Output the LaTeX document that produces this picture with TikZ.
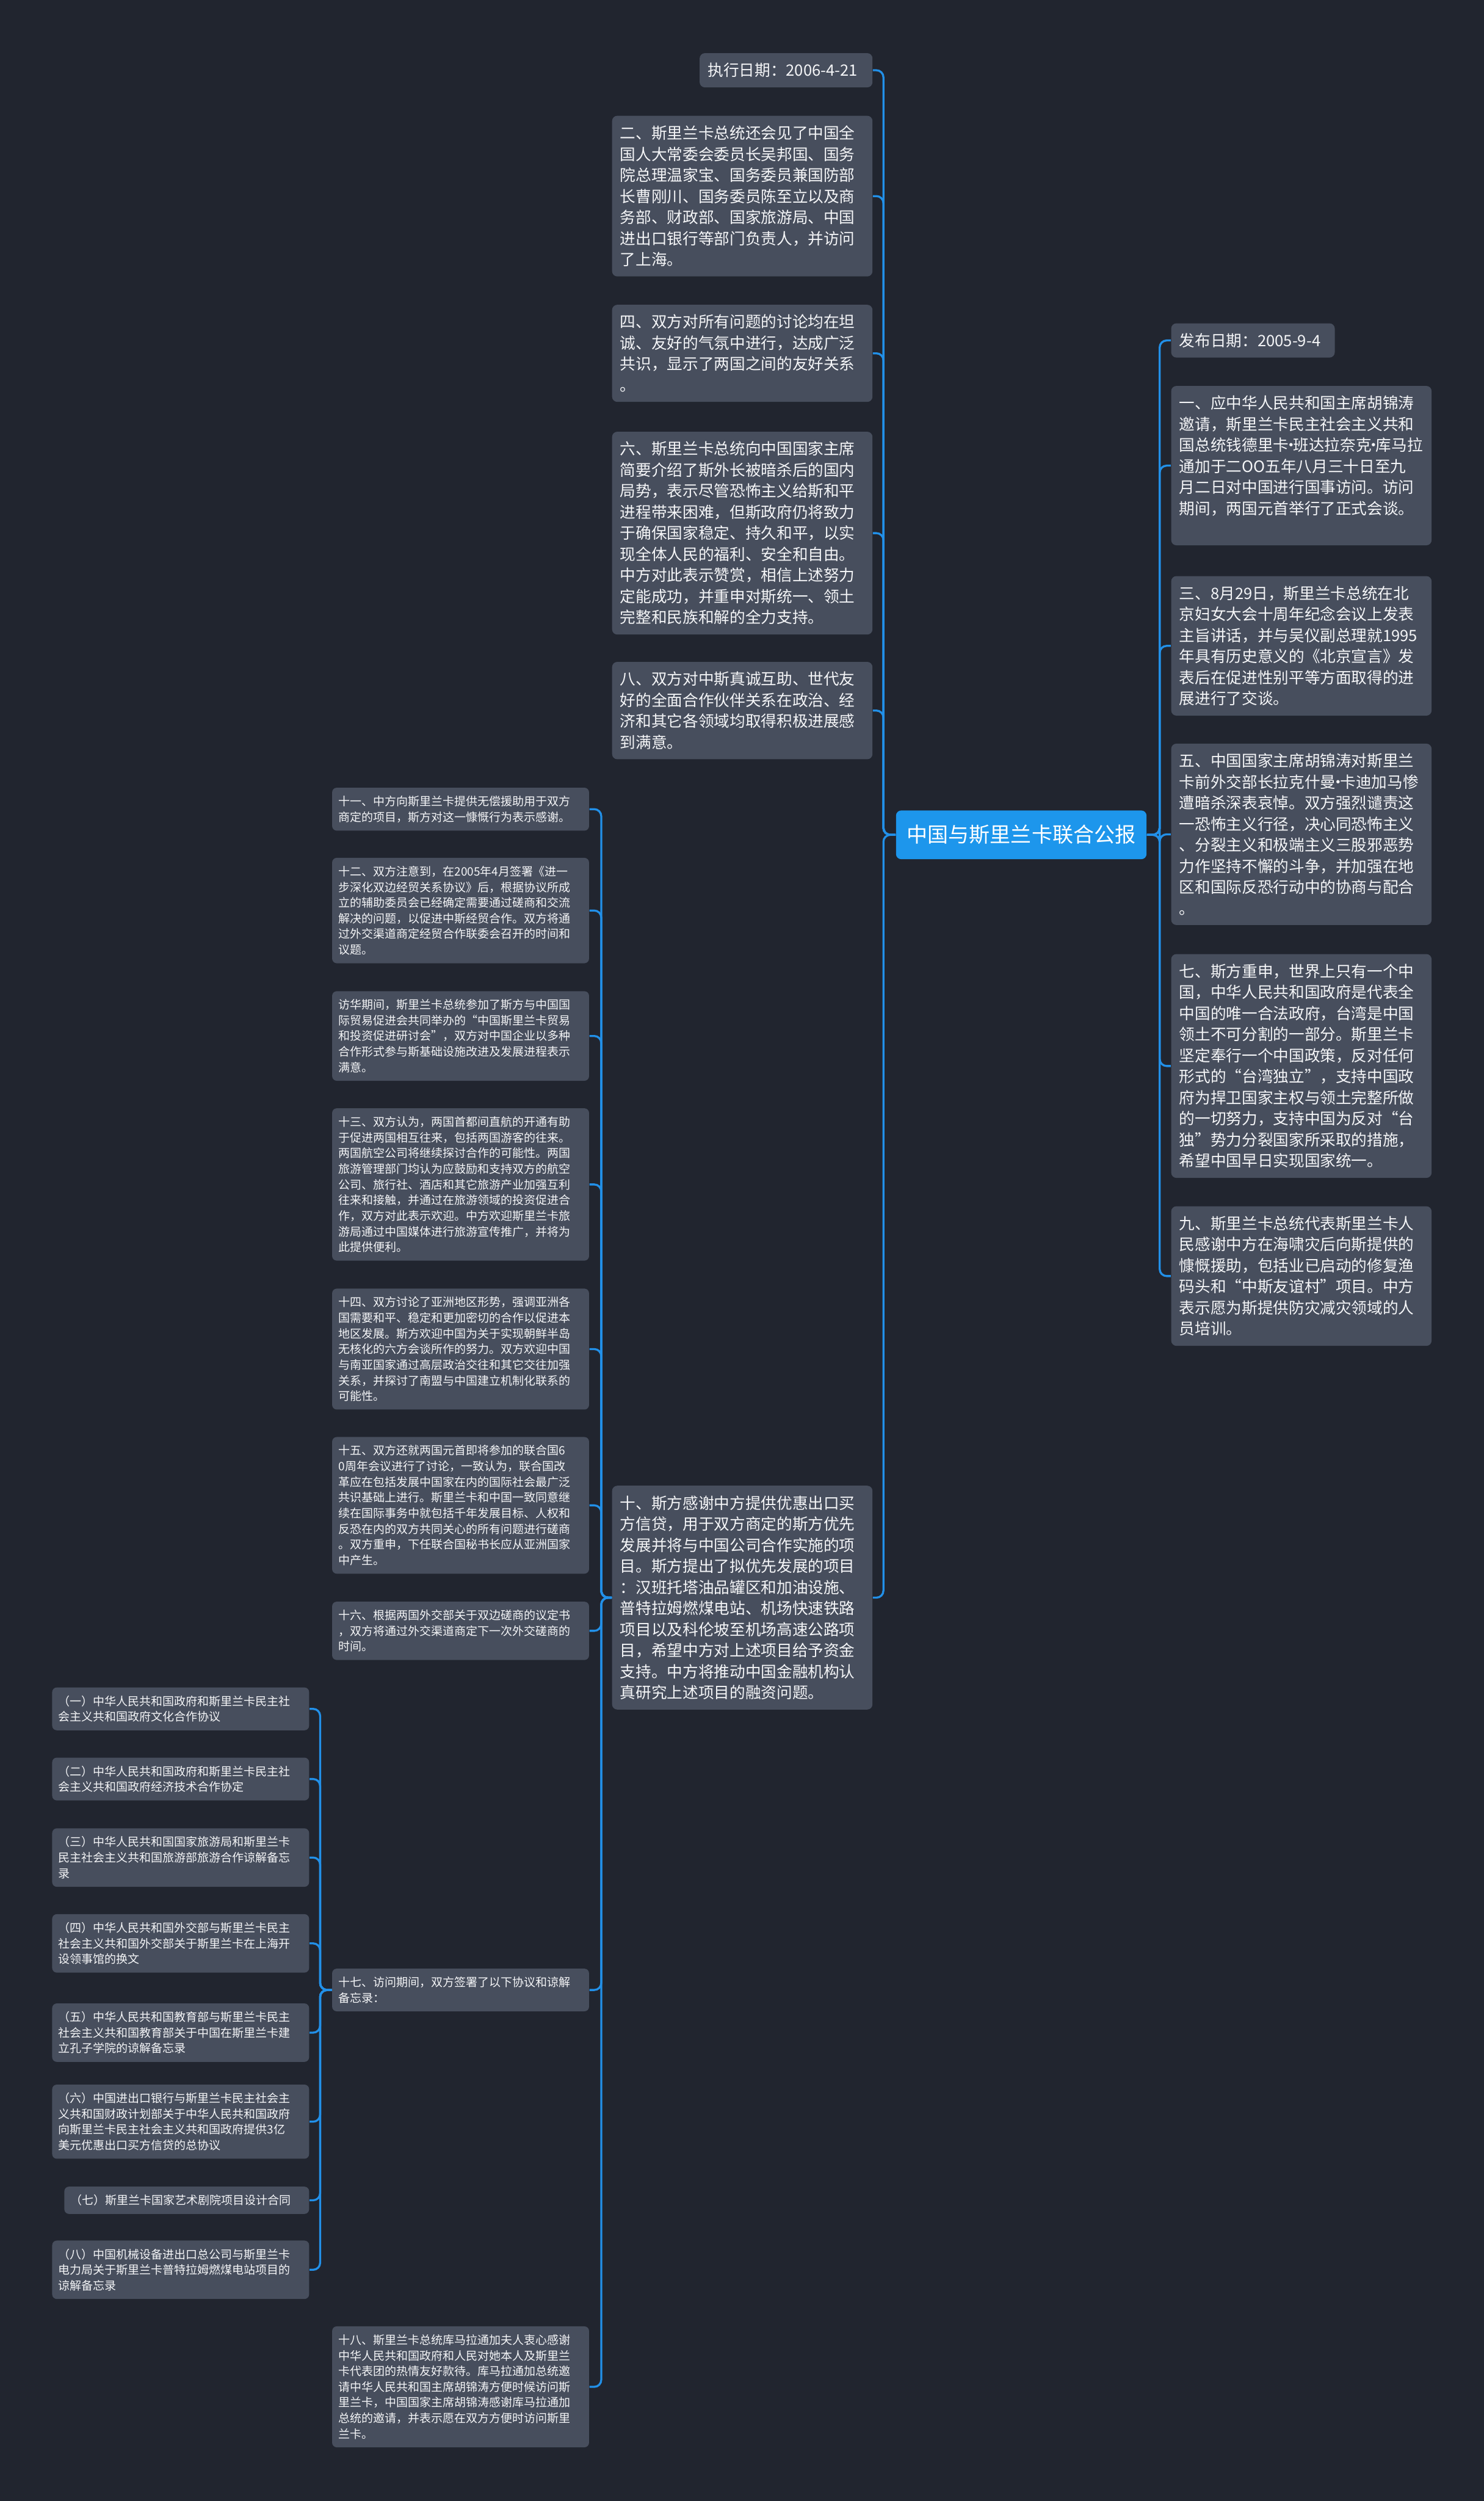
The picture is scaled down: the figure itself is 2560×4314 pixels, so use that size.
\documentclass[tikz,border=0pt]{standalone}
\usepackage{fontspec}
\setmainfont{Noto Sans CJK SC}
\usepackage{tikz}
\definecolor{bgnavy}{HTML}{21252F}
\definecolor{boxgray}{HTML}{474E5D}
\definecolor{topicblue}{HTML}{1D96EC}
\definecolor{linkblue}{HTML}{2290E8}
\definecolor{textwhite}{HTML}{F4F5F7}
\newcommand{\namedot}{\kern-0.36em·\kern-0.36em}

\begin{document}
\begin{tikzpicture}[
    x=0.01cm, y=-0.01cm,
    topic/.style={rectangle, fill=topicblue, rounded corners=0.09cm, text=white, minimum width=4.32cm, minimum height=0.84cm, inner sep=0pt, font=\fontsize{10.2pt}{12pt}\selectfont},
    bigbox/.style={rectangle, fill=boxgray, rounded corners=0.09cm, text=textwhite, text width=4.21cm, align=left, inner xsep=0.14cm, inner ysep=0.17cm, font=\fontsize{7.68pt}{10.33pt}\selectfont},
    smallbox/.style={rectangle, fill=boxgray, rounded corners=0.08cm, text=textwhite, text width=4.21cm, align=left, inner xsep=0.11cm, inner ysep=0.14cm, font=\fontsize{5.69pt}{7.68pt}\selectfont},
    link/.style={draw=linkblue, line width=0.035cm, rounded corners=0.12cm}
  ]

  % Hintergrund
  \fill [bgnavy] (0,0) rectangle (2560,4314);

  % 节点
  \node (title) [topic] at (1762,1440) {中国与斯里兰卡联合公报};

  \node (execdate) [bigbox, text width=2.70cm, anchor=north east] at (1506,91) {执行日期：2006-4-21};
  \node (item2) [bigbox, anchor=north east] at (1506,199) {二、斯里兰卡总统还会见了中国全\\国人大常委会委员长吴邦国、国务\\院总理温家宝、国务委员兼国防部\\长曹刚川、国务委员陈至立以及商\\务部、财政部、国家旅游局、中国\\进出口银行等部门负责人，并访问\\了上海。};
  \node (item4) [bigbox, anchor=north east] at (1506,525) {四、双方对所有问题的讨论均在坦\\诚、友好的气氛中进行，达成广泛\\共识，显示了两国之间的友好关系\\。};
  \node (item6) [bigbox, anchor=north east] at (1506,744) {六、斯里兰卡总统向中国国家主席\\简要介绍了斯外长被暗杀后的国内\\局势，表示尽管恐怖主义给斯和平\\进程带来困难，但斯政府仍将致力\\于确保国家稳定、持久和平，以实\\现全体人民的福利、安全和自由。\\中方对此表示赞赏，相信上述努力\\定能成功，并重申对斯统一、领土\\完整和民族和解的全力支持。};
  \node (item8) [bigbox, anchor=north east] at (1506,1141) {八、双方对中斯真诚互助、世代友\\好的全面合作伙伴关系在政治、经\\济和其它各领域均取得积极进展感\\到满意。};
  \node (item10) [bigbox, anchor=north east] at (1506,2562) {十、斯方感谢中方提供优惠出口买\\方信贷，用于双方商定的斯方优先\\发展并将与中国公司合作实施的项\\目。斯方提出了拟优先发展的项目\\：汉班托塔油品罐区和加油设施、\\普特拉姆燃煤电站、机场快速铁路\\项目以及科伦坡至机场高速公路项\\目，希望中方对上述项目给予资金\\支持。中方将推动中国金融机构认\\真研究上述项目的融资问题。};

  \node (pubdate) [bigbox, text width=2.54cm, anchor=north west] at (2020,557) {发布日期：2005-9-4};
  \node (item1) [bigbox, anchor=north west] at (2020,665) {一、应中华人民共和国主席胡锦涛\\邀请，斯里兰卡民主社会主义共和\\国总统钱德里卡\namedot 班达拉奈克\namedot 库马拉\\通加于二OO五年八月三十日至九\\月二日对中国进行国事访问。访问\\期间，两国元首举行了正式会谈。\\~};
  \node (item3) [bigbox, anchor=north west] at (2020,993) {三、8月29日，斯里兰卡总统在北\\京妇女大会十周年纪念会议上发表\\主旨讲话，并与吴仪副总理就1995\\年具有历史意义的《北京宣言》发\\表后在促进性别平等方面取得的进\\展进行了交谈。};
  \node (item5) [bigbox, anchor=north west] at (2020,1282) {五、中国国家主席胡锦涛对斯里兰\\卡前外交部长拉克什曼\namedot 卡迪加马惨\\遭暗杀深表哀悼。双方强烈谴责这\\一恐怖主义行径，决心同恐怖主义\\、分裂主义和极端主义三股邪恶势\\力作坚持不懈的斗争，并加强在地\\区和国际反恐行动中的协商与配合\\。};
  \node (item7) [bigbox, anchor=north west] at (2020,1645) {七、斯方重申，世界上只有一个中\\国，中华人民共和国政府是代表全\\中国的唯一合法政府，台湾是中国\\领土不可分割的一部分。斯里兰卡\\坚定奉行一个中国政策，反对任何\\形式的“台湾独立”，支持中国政\\府为捍卫国家主权与领土完整所做\\的一切努力，支持中国为反对“台\\独”势力分裂国家所采取的措施，\\希望中国早日实现国家统一。};
  \node (item9) [bigbox, anchor=north west] at (2020,2080) {九、斯里兰卡总统代表斯里兰卡人\\民感谢中方在海啸灾后向斯提供的\\慷慨援助，包括业已启动的修复渔\\码头和“中斯友谊村”项目。中方\\表示愿为斯提供防灾减灾领域的人\\员培训。};

  \node (item11) [smallbox, anchor=north east] at (1017,1358) {十一、中方向斯里兰卡提供无偿援助用于双方\\商定的项目，斯方对这一慷慨行为表示感谢。};
  \node (item12) [smallbox, anchor=north east] at (1017,1479) {十二、双方注意到，在2005年4月签署《进一\\步深化双边经贸关系协议》后，根据协议所成\\立的辅助委员会已经确定需要通过磋商和交流\\解决的问题，以促进中斯经贸合作。双方将通\\过外交渠道商定经贸合作联委会召开的时间和\\议题。};
  \node (visit) [smallbox, anchor=north east] at (1017,1709) {访华期间，斯里兰卡总统参加了斯方与中国国\\际贸易促进会共同举办的“中国斯里兰卡贸易\\和投资促进研讨会”，双方对中国企业以多种\\合作形式参与斯基础设施改进及发展进程表示\\满意。};
  \node (item13) [smallbox, anchor=north east] at (1017,1911) {十三、双方认为，两国首都间直航的开通有助\\于促进两国相互往来，包括两国游客的往来。\\两国航空公司将继续探讨合作的可能性。两国\\旅游管理部门均认为应鼓励和支持双方的航空\\公司、旅行社、酒店和其它旅游产业加强互利\\往来和接触，并通过在旅游领域的投资促进合\\作，双方对此表示欢迎。中方欢迎斯里兰卡旅\\游局通过中国媒体进行旅游宣传推广，并将为\\此提供便利。};
  \node (item14) [smallbox, anchor=north east] at (1017,2222) {十四、双方讨论了亚洲地区形势，强调亚洲各\\国需要和平、稳定和更加密切的合作以促进本\\地区发展。斯方欢迎中国为关于实现朝鲜半岛\\无核化的六方会谈所作的努力。双方欢迎中国\\与南亚国家通过高层政治交往和其它交往加强\\关系，并探讨了南盟与中国建立机制化联系的\\可能性。};
  \node (item15) [smallbox, anchor=north east] at (1017,2478) {十五、双方还就两国元首即将参加的联合国6\\0周年会议进行了讨论，一致认为，联合国改\\革应在包括发展中国家在内的国际社会最广泛\\共识基础上进行。斯里兰卡和中国一致同意继\\续在国际事务中就包括千年发展目标、人权和\\反恐在内的双方共同关心的所有问题进行磋商\\。双方重申，下任联合国秘书长应从亚洲国家\\中产生。};
  \node (item16) [smallbox, anchor=north east] at (1017,2762) {十六、根据两国外交部关于双边磋商的议定书\\，双方将通过外交渠道商定下一次外交磋商的\\时间。};
  \node (item17) [smallbox, anchor=north east] at (1017,3395) {十七、访问期间，双方签署了以下协议和谅解\\备忘录：};
  \node (item18) [smallbox, anchor=north east] at (1017,4012) {十八、斯里兰卡总统库马拉通加夫人衷心感谢\\中华人民共和国政府和人民对她本人及斯里兰\\卡代表团的热情友好款待。库马拉通加总统邀\\请中华人民共和国主席胡锦涛方便时候访问斯\\里兰卡，中国国家主席胡锦涛感谢库马拉通加\\总统的邀请，并表示愿在双方方便时访问斯里\\兰卡。};

  \node (agr1) [smallbox, anchor=north east] at (534,2910) {（一）中华人民共和国政府和斯里兰卡民主社\\会主义共和国政府文化合作协议};
  \node (agr2) [smallbox, anchor=north east] at (534,3031) {（二）中华人民共和国政府和斯里兰卡民主社\\会主义共和国政府经济技术合作协定};
  \node (agr3) [smallbox, anchor=north east] at (534,3153) {（三）中华人民共和国国家旅游局和斯里兰卡\\民主社会主义共和国旅游部旅游合作谅解备忘\\录};
  \node (agr4) [smallbox, anchor=north east] at (534,3301) {（四）中华人民共和国外交部与斯里兰卡民主\\社会主义共和国外交部关于斯里兰卡在上海开\\设领事馆的换文};
  \node (agr5) [smallbox, anchor=north east] at (534,3455) {（五）中华人民共和国教育部与斯里兰卡民主\\社会主义共和国教育部关于中国在斯里兰卡建\\立孔子学院的谅解备忘录};
  \node (agr6) [smallbox, anchor=north east] at (534,3595) {（六）中国进出口银行与斯里兰卡民主社会主\\义共和国财政计划部关于中华人民共和国政府\\向斯里兰卡民主社会主义共和国政府提供3亿\\美元优惠出口买方信贷的总协议};
  \node (agr7) [smallbox, text width=4.00cm, anchor=north east] at (534,3771) {（七）斯里兰卡国家艺术剧院项目设计合同};
  \node (agr8) [smallbox, anchor=north east] at (534,3864) {（八）中国机械设备进出口总公司与斯里兰卡\\电力局关于斯里兰卡普特拉姆燃煤电站项目的\\谅解备忘录};

  % 连线
  \draw [link] (title.west) -- ++(-21,0) |- (execdate.east);
  \draw [link] (title.west) -- ++(-21,0) |- (item2.east);
  \draw [link] (title.west) -- ++(-21,0) |- (item4.east);
  \draw [link] (title.west) -- ++(-21,0) |- (item6.east);
  \draw [link] (title.west) -- ++(-21,0) |- (item8.east);
  \draw [link] (title.west) -- ++(-21,0) |- (item10.east);

  \draw [link] (title.east) -- ++(22,0) |- (pubdate.west);
  \draw [link] (title.east) -- ++(22,0) |- (item1.west);
  \draw [link] (title.east) -- ++(22,0) |- (item3.west);
  \draw [link] (title.east) -- ++(22,0) |- (item5.west);
  \draw [link] (title.east) -- ++(22,0) |- (item7.west);
  \draw [link] (title.east) -- ++(22,0) |- (item9.west);

  \draw [link] (item10.west) -- ++(-18,0) |- (item11.east);
  \draw [link] (item10.west) -- ++(-18,0) |- (item12.east);
  \draw [link] (item10.west) -- ++(-18,0) |- (visit.east);
  \draw [link] (item10.west) -- ++(-18,0) |- (item13.east);
  \draw [link] (item10.west) -- ++(-18,0) |- (item14.east);
  \draw [link] (item10.west) -- ++(-18,0) |- (item15.east);
  \draw [link] (item10.west) -- ++(-18,0) |- (item16.east);
  \draw [link] (item10.west) -- ++(-18,0) |- (item17.east);
  \draw [link] (item10.west) -- ++(-18,0) |- (item18.east);

  \draw [link] (item17.west) -- ++(-20,0) |- (agr1.east);
  \draw [link] (item17.west) -- ++(-20,0) |- (agr2.east);
  \draw [link] (item17.west) -- ++(-20,0) |- (agr3.east);
  \draw [link] (item17.west) -- ++(-20,0) |- (agr4.east);
  \draw [link] (item17.west) -- ++(-20,0) |- (agr5.east);
  \draw [link] (item17.west) -- ++(-20,0) |- (agr6.east);
  \draw [link] (item17.west) -- ++(-20,0) |- (agr7.east);
  \draw [link] (item17.west) -- ++(-20,0) |- (agr8.east);

\end{tikzpicture}
\end{document}
